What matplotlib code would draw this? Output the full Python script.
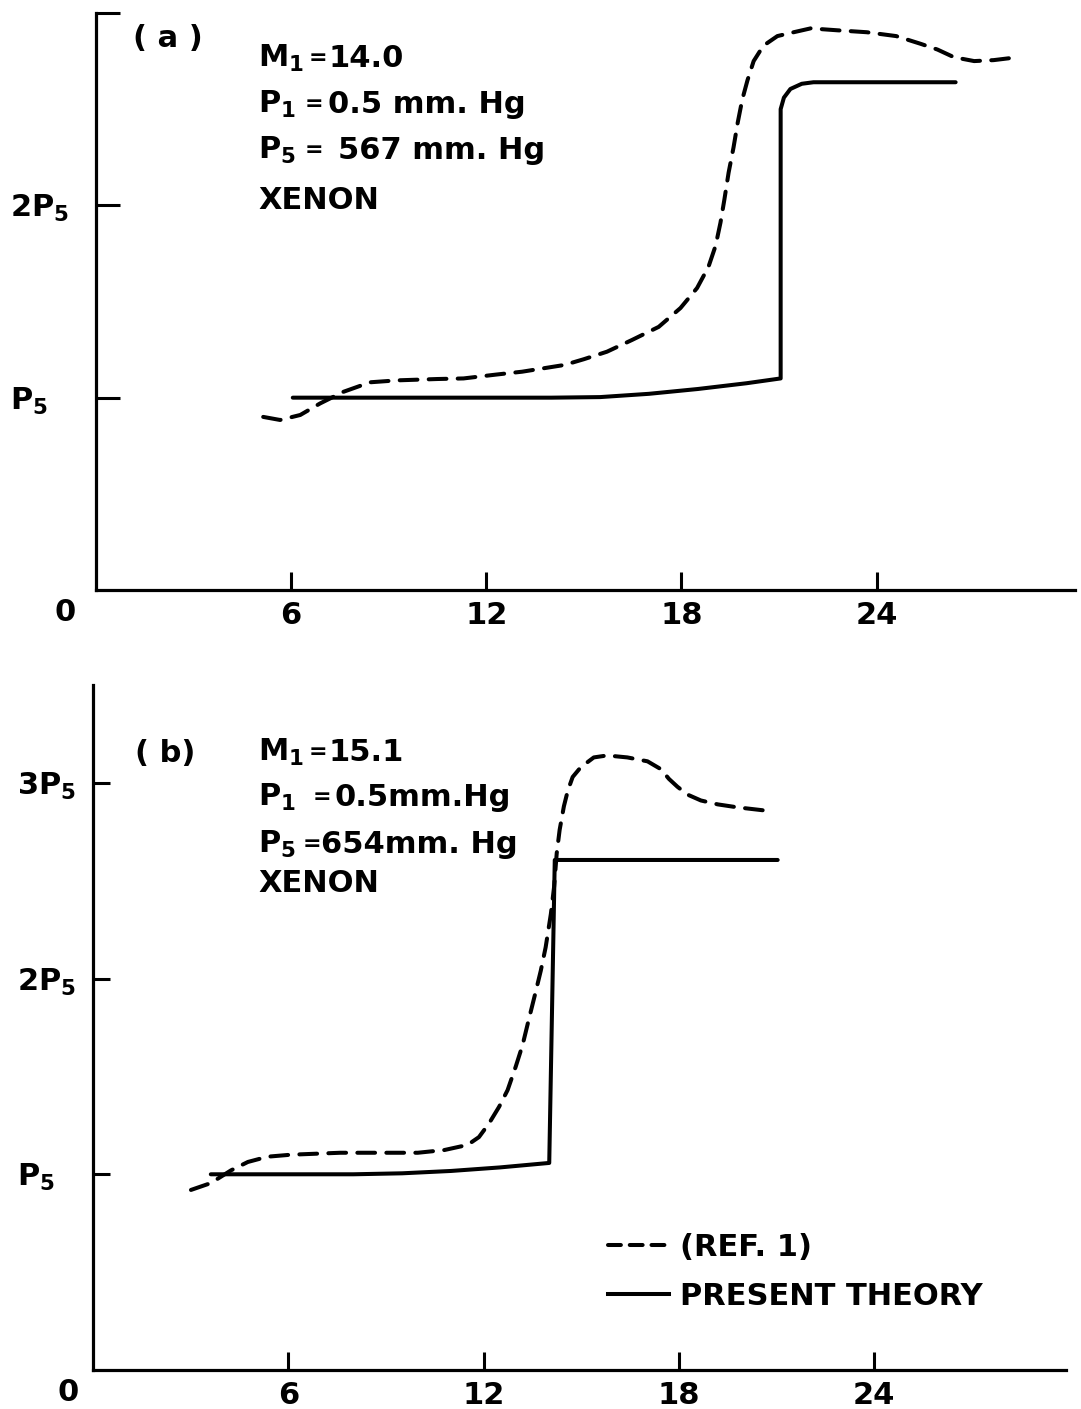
import matplotlib
matplotlib.use("Agg")
import matplotlib.pyplot as plt
from matplotlib.lines import Line2D

plt.rcParams["font.family"] = ["DejaVu Sans"]
plt.rcParams["font.weight"] = "bold"
plt.rcParams["mathtext.default"] = "regular"

# ---- data: pressure history (units of P5) vs. time ----
# panel (a): M1 = 14.0
ref_a_x = [5.14, 5.66, 6.28, 6.89, 7.6, 8.43, 9.26, 10.5, 11.3, 12.3, 13.1, 14.4,
           15.0, 15.71, 16.48, 17.3, 17.97, 18.48, 18.83, 19.05, 19.2, 19.32, 19.45,
           19.6, 19.73, 19.87, 20.03, 20.22, 20.52, 20.95, 21.45, 21.97, 22.8, 23.7,
           24.6, 25.35, 25.87, 26.38, 27.0, 27.6, 28.33]
ref_a_y = [0.90, 0.884, 0.91, 0.97, 1.03, 1.08, 1.09, 1.097, 1.10, 1.12, 1.135, 1.17,
           1.20, 1.239, 1.30, 1.368, 1.466, 1.57, 1.68, 1.79, 1.91, 2.03, 2.17,
           2.30, 2.43, 2.55, 2.65, 2.75, 2.83, 2.88, 2.90, 2.92, 2.91, 2.90,
           2.88, 2.84, 2.81, 2.77, 2.75, 2.755, 2.77]
present_a_x = [6.05, 8, 10, 12, 14, 15.5, 17, 18.5, 20, 21.05, 21.05, 21.15, 21.35,
               21.7, 22.06, 26.43]
present_a_y = [1.0, 1.0, 1.0, 1.0, 1.0, 1.003, 1.02, 1.045, 1.075, 1.10, 2.50, 2.56,
               2.605, 2.632, 2.64, 2.64]

# panel (b): M1 = 15.1
ref_b_x = [3.01, 3.62, 4.24, 4.76, 5.37, 6.08, 7.6, 8.94, 9.98, 10.8, 11.51, 11.86,
           12.17, 12.48, 12.74, 12.99, 13.2, 13.39, 13.6, 13.76, 13.91, 14.07, 14.17,
           14.25, 14.34, 14.47, 14.59, 14.74, 14.99, 15.39, 15.8, 16.42, 17.04, 17.45,
           17.7, 17.96, 18.27, 18.68, 19.2, 19.8, 20.58]
ref_b_y = [0.92, 0.955, 1.02, 1.063, 1.09, 1.10, 1.11, 1.11, 1.11, 1.124, 1.15, 1.19,
           1.26, 1.345, 1.43, 1.55, 1.66, 1.79, 1.93, 2.04, 2.16, 2.33, 2.47,
           2.64, 2.76, 2.88, 2.96, 3.03, 3.08, 3.13, 3.14, 3.13, 3.11, 3.07,
           3.02, 2.98, 2.94, 2.91, 2.89, 2.875, 2.86]
present_b_x = [3.62, 6, 8, 9.5, 11, 12.5, 14.02, 14.19, 21.04]
present_b_y = [1.0, 1.0, 1.0, 1.005, 1.017, 1.035, 1.058, 2.606, 2.606]

x_ticks = [6, 12, 18, 24]
x_tick_labels = ["6", "12", "18", "24"]
y_ticks_a = [1, 2, 3]
y_tick_labels_a = ["P$_5$", "2P$_5$", ""]
y_ticks_b = [1, 2, 3]
y_tick_labels_b = ["P$_5$", "2P$_5$", "3P$_5$"]

# run conditions: (symbol, value)
info_a = [("M$_1$", "14.0"), ("P$_1$", "0.5 mm. Hg"), ("P$_5$", "567 mm. Hg")]
info_b = [("M$_1$", "15.1"), ("P$_1$", "0.5mm.Hg"), ("P$_5$", "654mm. Hg")]
gas = "XENON"

W, H = 1081, 1409
fig = plt.figure(figsize=(W / 100, H / 100), dpi=100)
FS = 22
LW = 2.9
DASH = (4.4, 2.8)


def box(l, r, b, t):
    return [l / W, 1 - b / H, (r - l) / W, (b - t) / H]


def style_axes(ax, ytick_len, ylab_pad, zero_dx):
    for s in ("top", "right"):
        ax.spines[s].set_visible(False)
    for s in ("left", "bottom"):
        ax.spines[s].set_linewidth(2.3)
    ax.tick_params(axis="x", direction="in", length=13, width=2.2, pad=8,
                   labelsize=FS)
    ax.tick_params(axis="y", direction="in", length=ytick_len, width=2.2,
                   pad=ylab_pad, labelsize=FS)
    for lab in ax.get_yticklabels():
        lab.set_horizontalalignment("left")
    ax.annotate("0", xy=(0, 0), xycoords="data", xytext=(zero_dx, -16),
                textcoords="offset points", ha="center", va="center",
                fontsize=FS, fontweight="bold")


# ---- panel (a) ----
ax_a = fig.add_axes(box(96, 1075, 590, 13))
ax_a.set_xlim(0, 30.1)
ax_a.set_ylim(0, 3.0)
ax_a.plot(ref_a_x, ref_a_y, color="black", lw=LW, ls=(0, DASH),
          dash_capstyle="round", dash_joinstyle="round")
ax_a.plot(present_a_x, present_a_y, color="black", lw=LW,
          solid_capstyle="round", solid_joinstyle="round")
ax_a.set_xticks(x_ticks, x_tick_labels)
ax_a.set_yticks(y_ticks_a, y_tick_labels_a)
style_axes(ax_a, 17, 62, -22)

# ---- panel (b) ----
ax_b = fig.add_axes(box(93, 1066, 1370, 685))
ax_b.set_xlim(0, 29.9)
ax_b.set_ylim(0, 3.5)
ax_b.plot(ref_b_x, ref_b_y, color="black", lw=LW, ls=(0, DASH),
          dash_capstyle="round", dash_joinstyle="round")
ax_b.plot(present_b_x, present_b_y, color="black", lw=LW,
          solid_capstyle="round", solid_joinstyle="round")
ax_b.set_xticks(x_ticks, x_tick_labels)
ax_b.set_yticks(y_ticks_b, y_tick_labels_b)
style_axes(ax_b, 12, 55, -18)


# ---- annotations ----
def ftext(px, py, s, size=FS, **kw):
    fig.text(px / W, 1 - py / H, s, fontsize=size, fontweight="bold",
             va="baseline", ha="left", **kw)


def condition(py, sym, val, x_eq, x_val):
    ftext(258, py, sym)
    ftext(x_eq, py - 3, "=", size=16)
    ftext(x_val, py, val)


ftext(133, 47, "( a )")
for py, (sym, val), xe, xv in zip([67, 113, 159], info_a,
                                   [309, 305, 305], [328, 328, 338]):
    condition(py, sym, val, xe, xv)
ftext(258, 209, gas)

ftext(135, 762, "( b)")
for py, (sym, val), xe, xv in zip([761, 806, 853], info_b,
                                   [309, 313, 303], [329, 335, 321]):
    condition(py, sym, val, xe, xv)
ftext(258, 892, gas)

handles = [Line2D([], [], color="black", lw=LW, ls=(0, (3.2, 2.2)),
                  dash_capstyle="round"),
           Line2D([], [], color="black", lw=LW)]
ax_b.legend(handles, ["(REF. 1)", "PRESENT THEORY"], loc="upper left",
            bbox_to_anchor=((608 - 93) / 973, (1370 - 1233) / 685),
            frameon=False, handlelength=2.0, handletextpad=0.35,
            labelspacing=0.65, borderpad=0, borderaxespad=0,
            prop={"weight": "bold", "size": FS})

fig.savefig("out.png", dpi=100, facecolor="white")
